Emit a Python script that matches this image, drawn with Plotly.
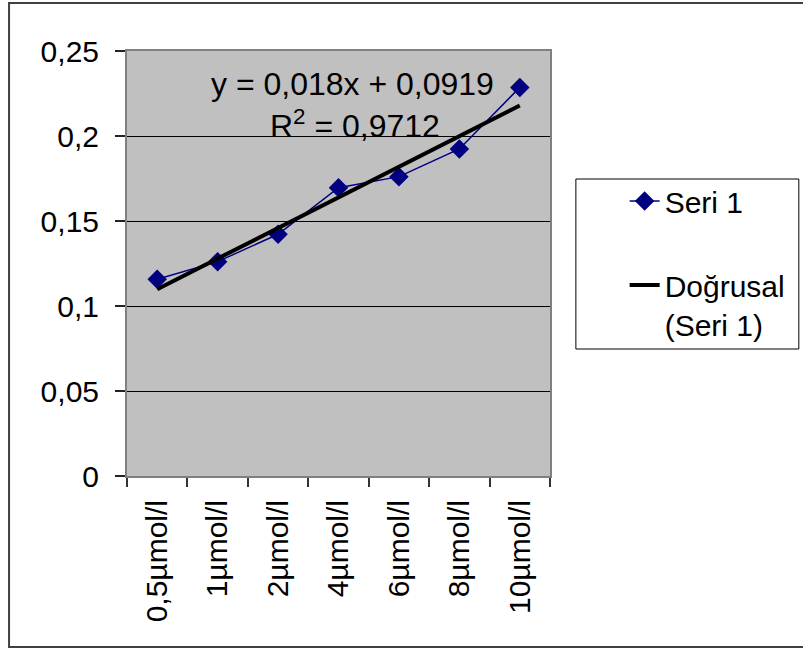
import plotly.graph_objects as go

categories = ["0,5µmol/l", "1µmol/l", "2µmol/l", "4µmol/l", "6µmol/l", "8µmol/l", "10µmol/l"]
seri1 = [0.1157, 0.1261, 0.1422, 0.1696, 0.1761, 0.1924, 0.2286]
trend_slope = 0.018
trend_intercept = 0.0919
trend_values = [trend_slope * (i + 1) + trend_intercept for i in range(len(categories))]
y_ticks = [0, 0.05, 0.1, 0.15, 0.2, 0.25]

W, H = 803, 650
L, R, T, B = 127, 552, 51, 476


def px(x):
    return (x - L) / (R - L)


def py(y):
    return (B - y) / (B - T)


FONT = "Liberation Sans, Arial, sans-serif"

fig = go.Figure()
fig.add_trace(go.Scatter(
    x=categories, y=seri1, mode="lines+markers", name="Seri 1",
    line=dict(color="#000080", width=1.5),
    marker=dict(symbol="diamond", size=15, color="#000080"),
    legendgroup="a",
))
fig.add_trace(go.Scatter(
    x=categories, y=trend_values, mode="lines", name="Doğrusal<br>(Seri 1)",
    line=dict(color="#000000", width=4),
    legendgroup="b",
))

fig.update_layout(
    width=W, height=H,
    margin=dict(l=L, r=W - R, t=T, b=H - B, pad=0),
    paper_bgcolor="white",
    plot_bgcolor="#C0C0C0",
    separators=",.",
    font=dict(family=FONT, size=30, color="black"),
    showlegend=True,
    legend=dict(
        x=px(627), y=py(175), xanchor="left", yanchor="top",
        bgcolor="rgba(0,0,0,0)", borderwidth=0,
        font=dict(size=30, family=FONT, color="black"),
        tracegroupgap=42, traceorder="grouped", valign="top",
    ),
    xaxis=dict(
        type="category", tickson="boundaries", ticks="outside", ticklen=9,
        tickcolor="#333333", tickwidth=1.5, tickangle=-90,
        showgrid=False, showline=True, linecolor="#808080", linewidth=2, mirror=True,
        tickfont=dict(size=30, family=FONT), ticklabelstandoff=10,
        range=[-0.5, len(categories) - 0.5],
    ),
    yaxis=dict(
        range=[0, 0.25], tickvals=y_ticks, ticks="outside", ticklen=10,
        tickcolor="#222222", tickwidth=1.5,
        showgrid=True, gridcolor="black", gridwidth=1, zeroline=False,
        showline=True, linecolor="#808080", linewidth=2, mirror=True,
        tickfont=dict(size=30, family=FONT), ticklabelstandoff=10,
    ),
    shapes=[
        dict(type="rect", xref="paper", yref="paper",
             x0=px(8.5), x1=px(830), y0=py(647), y1=py(3),
             line=dict(color="#404040", width=2), layer="below"),
        dict(type="rect", xref="paper", yref="paper",
             x0=px(578), x1=px(802), y0=py(349), y1=py(179),
             line=dict(color="black", width=1)),
    ],
    annotations=[
        dict(text="y = 0,018x + 0,0919", xref="paper", yref="paper",
             x=px(354), y=py(84), xanchor="center", yanchor="middle", showarrow=False,
             font=dict(size=32, family=FONT, color="black")),
        dict(text="R<sup>2</sup> = 0,9712", xref="paper", yref="paper",
             x=px(356), y=py(124), xanchor="center", yanchor="middle", showarrow=False,
             font=dict(size=32, family=FONT, color="black")),
    ],
)

fig.write_html("out.html")
